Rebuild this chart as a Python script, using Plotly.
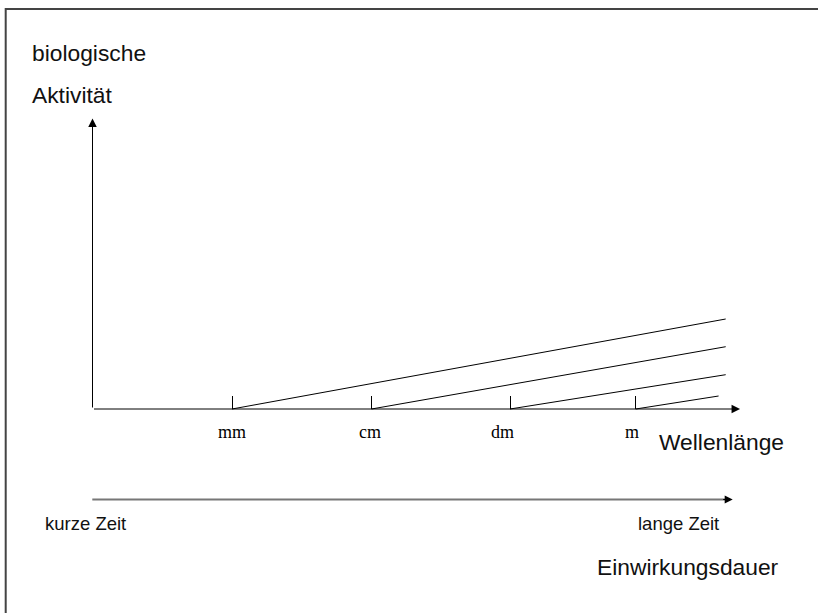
import plotly.graph_objects as go

# ---------------- data ----------------
categories = ["mm", "cm", "dm", "m"]          # wavelength marks on the horizontal axis
category_x = [1.0, 2.0, 2.993, 3.894]          # position of each mark (axis units)
line_end_x = [4.539, 4.539, 4.539, 4.488]      # where each activity line ends
line_end_y = [3.103, 2.148, 1.183, 0.448]      # activity reached at the line end

y_axis_label = ["biologische", "Aktivität"]
x_axis_label = "Wellenlänge"
time_labels = ["kurze Zeit", "lange Zeit"]
time_axis_label = "Einwirkungsdauer"

# ---------------- layout geometry ----------------
W, H = 818, 613
ORIGIN_X_PX, ORIGIN_Y_PX = 92.5, 409.0
UNIT_X_PX, UNIT_Y_PX = 139.5, 29.0
X_ARROW_TIP = 4.642
Y_ARROW_TIP = 10.02

x_range = [-ORIGIN_X_PX / UNIT_X_PX, (W - ORIGIN_X_PX) / UNIT_X_PX]
y_range = [-(H - ORIGIN_Y_PX) / UNIT_Y_PX, ORIGIN_Y_PX / UNIT_Y_PX]


def px(xp):
    return xp / W


def py(yp):
    return 1 - yp / H


SANS = "Liberation Sans, Arial, Helvetica, sans-serif"
SERIF = "Liberation Serif, Times New Roman, serif"
BIG = 22.8
SMALL = 18.5
LABEL_XSHIFT = [0, -2, -8, -4]

fig = go.Figure()

for cx, ex, ey in zip(category_x, line_end_x, line_end_y):
    fig.add_trace(go.Scatter(
        x=[cx, ex], y=[0, ey], mode="lines",
        line=dict(color="black", width=1),
        hoverinfo="skip", showlegend=False,
    ))

annotations = []
# axis arrows
annotations.append(dict(x=X_ARROW_TIP, y=0, ax=0, ay=0, xref="x", yref="y",
                        axref="x", ayref="y", showarrow=True, arrowhead=2,
                        arrowsize=1.7, arrowwidth=1, arrowcolor="black", text=""))
annotations.append(dict(x=0, y=Y_ARROW_TIP, ax=0, ay=0, xref="x", yref="y",
                        axref="x", ayref="y", showarrow=True, arrowhead=2,
                        arrowsize=1.7, arrowwidth=1, arrowcolor="black", text=""))
# time arrow head (line itself is a shape)
annotations.append(dict(x=px(732.7), y=py(499.5), ax=-11, ay=0,
                        xref="paper", yref="paper", axref="pixel", ayref="pixel",
                        showarrow=True, arrowhead=2, arrowsize=1.6, arrowwidth=1,
                        arrowcolor="black", text=""))

# tick labels
for cat, cx, sh in zip(categories, category_x, LABEL_XSHIFT):
    annotations.append(dict(x=cx, y=py(432), xref="x", yref="paper", text=cat,
                            showarrow=False, xanchor="center", yanchor="middle",
                            xshift=sh, borderpad=0,
                            font=dict(family=SERIF, size=18, color="black")))


def label(text, left, cy, size):
    return dict(x=px(left), y=py(cy), xref="paper", yref="paper", text=text,
                showarrow=False, xanchor="left", yanchor="middle", borderpad=0,
                font=dict(family=SANS, size=size, color="#111111"))


annotations.append(label(y_axis_label[0], 31, 53.5, BIG))
annotations.append(label(y_axis_label[1], 31, 95, BIG))
annotations.append(label(x_axis_label, 658, 441.7, BIG))
annotations.append(label(time_axis_label, 596, 567.4, BIG))
annotations.append(label(time_labels[0], 44, 523.9, SMALL))
annotations.append(label(time_labels[1], 637.3, 523.9, SMALL))

shapes = [
    # frame (right and bottom edges fall outside the picture)
    dict(type="rect", xref="paper", yref="paper", x0=px(5.7), y0=py(9),
         x1=1.05, y1=-0.05, line=dict(color="#444444", width=2)),
    # time axis line
    dict(type="line", xref="paper", yref="paper", x0=px(92.3), y0=py(499.5),
         x1=px(726), y1=py(499.5), line=dict(color="#777777", width=2)),
]

fig.update_layout(
    width=W, height=H,
    margin=dict(l=0, r=0, t=0, b=0),
    paper_bgcolor="white", plot_bgcolor="white",
    xaxis=dict(range=x_range, showgrid=False, zeroline=False, showline=False,
               tickvals=category_x, ticktext=categories, showticklabels=False,
               ticks="inside", ticklen=13, tickwidth=1, tickcolor="black",
               anchor="free", position=1 - ORIGIN_Y_PX / H, fixedrange=True),
    yaxis=dict(range=y_range, visible=False, fixedrange=True),
    annotations=annotations,
    shapes=shapes,
    showlegend=False,
)

fig.write_html(
    "out.html",
    config={"displayModeBar": False, "staticPlot": True},
    post_script="document.body.style.margin='0';document.body.style.overflow='hidden';",
)
